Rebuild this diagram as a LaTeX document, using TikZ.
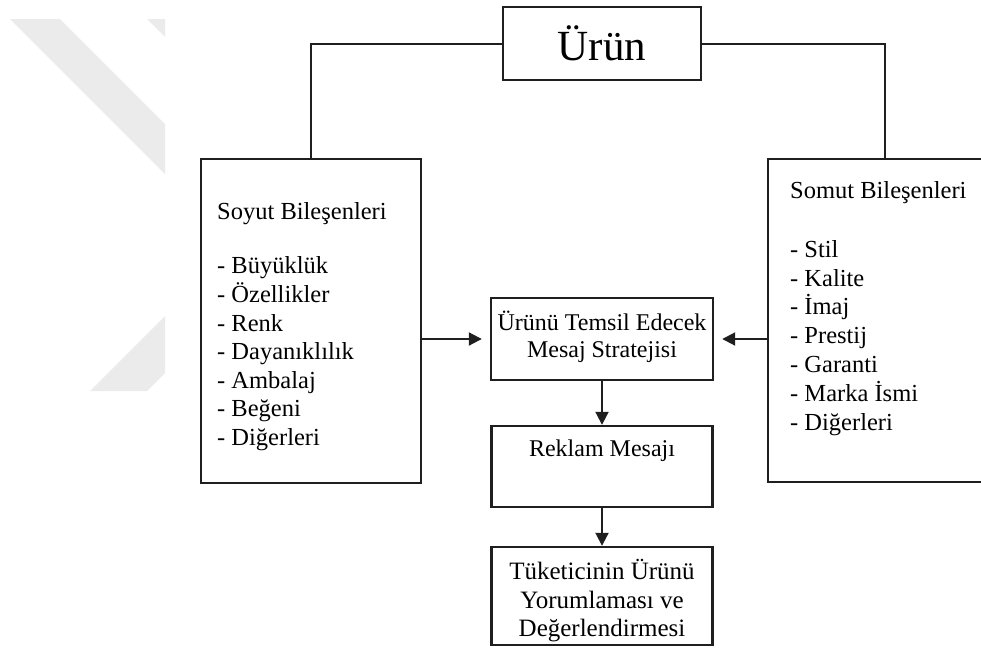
\documentclass[tikz,border=0pt]{standalone}
\usepackage{fontspec}
\setmainfont{Liberation Serif}
\usetikzlibrary{arrows.meta}
\begin{document}
\begin{tikzpicture}[x=1pt,y=-1pt,
  frame/.style={draw=black!88, line width=2.4pt, inner sep=0pt},
  link/.style={draw=black!88, line width=2pt},
  flow/.style={link, -{Triangle[length=13pt,width=13pt]}},
  listtext/.style={inner sep=0pt, anchor=north west, align=left},
  boxtext/.style={align=center, inner sep=0pt, font=\fontsize{24}{27}\selectfont},
  chevron/.style={fill=black!8, draw=none}
]
\useasboundingbox (0,0) rectangle (981,656);
\clip (0,0) rectangle (981,656);

% faint chevron in the upper left corner
\fill[chevron] (10,19) -- (60,19) -- (165,124) -- (165,174) -- cycle;
\fill[chevron] (147,19) -- (165,19) -- (165,37) -- cycle;
\fill[chevron] (165,316) -- (165,373) -- (147,391) -- (90,391) -- cycle;

% top box
\node[frame, minimum width=198pt, minimum height=73pt,
      font=\fontsize{43}{48}\selectfont] (urun) at (602,43.5) {Ürün};

% side boxes
\node[frame, minimum width=220pt, minimum height=324pt] (soyut) at (311,321) {};
\node[frame, minimum width=234pt, minimum height=323pt] (somut) at (885,320.5) {};

\node[listtext, font=\fontsize{24.5}{28.6}\selectfont] (soyutlist) at (217,202)
  {Soyut Bileşenleri\\[26pt]
   - Büyüklük\\- Özellikler\\- Renk\\- Dayanıklılık\\- Ambalaj\\- Beğeni\\- Diğerleri};
\node[listtext, font=\fontsize{24.5}{28.9}\selectfont] (somutlist) at (790,181)
  {Somut Bileşenleri\\[30pt]
   - Stil\\- Kalite\\- İmaj\\- Prestij\\- Garanti\\- Marka İsmi\\- Diğerleri};

% middle column
\node[frame, minimum width=222pt, minimum height=82pt] (strateji) at (602,339) {};
\node[boxtext] (stratejitext) at (602,337) {Ürünü Temsil Edecek\\Mesaj Stratejisi};
\node[frame, minimum width=221pt, minimum height=81pt] (reklam) at (602,466.5) {};
\node[boxtext] (reklamtext) at (602,451) {Reklam Mesajı};
\node[frame, minimum width=221pt, minimum height=98pt] (tuketici) at (602,596) {};
\node[boxtext, font=\fontsize{25}{28.5}\selectfont] (tuketicitext) at (602,601)
  {Tüketicinin Ürünü\\Yorumlaması ve\\Değerlendirmesi};

% connectors
\draw[link] (urun.west) -| (soyut.north);
\draw[link] (urun.east) -| (somut.north);
\draw[flow, shorten >=8pt] (strateji.west -| soyut.east) -- (strateji.west);
\draw[flow, shorten >=8pt] (strateji.east -| somut.west) -- (strateji.east);
\draw[flow] (strateji.south) -- (reklam.north);
\draw[flow] (reklam.south) -- (tuketici.north);
\end{tikzpicture}
\end{document}
